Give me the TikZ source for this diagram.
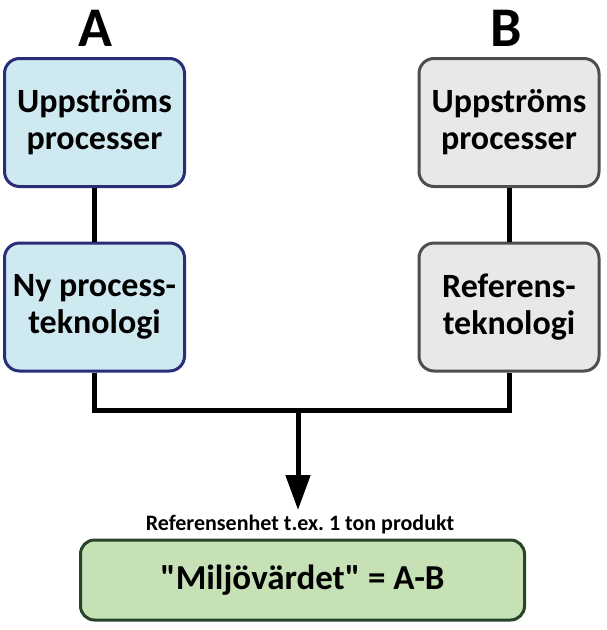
\documentclass[tikz,border=0pt]{standalone}
\usepackage{fontspec}
\setmainfont{Carlito}[Ligatures=TeXOff]
\usetikzlibrary{arrows.meta}
\frenchspacing
\definecolor{bluefill}{HTML}{CFE9F1}
\definecolor{blueline}{HTML}{2A2D78}
\definecolor{greyfill}{HTML}{E9E7E7}
\definecolor{greyline}{HTML}{4E4E4E}
\definecolor{greenfill}{HTML}{C6E1B5}
\definecolor{greenline}{HTML}{284428}
\tikzset{
  procbox/.style={rounded corners=15pt, line width=3pt, minimum width=180pt, minimum height=128pt,
    align=center, font=\bfseries\fontsize{34}{37}\selectfont, inner sep=0pt},
  abox/.style={procbox, draw=blueline, fill=bluefill},
  bbox/.style={procbox, draw=greyline, fill=greyfill},
  conn/.style={line width=5pt, black},
  bigletter/.style={font=\bfseries\fontsize{56}{60}\selectfont, inner sep=0pt},
}
\begin{document}
\begin{tikzpicture}[x=1pt,y=-1pt]
\useasboundingbox (0,0) rectangle (607,630);
\node[bigletter] (LA) at (95,28) {A};
\node[bigletter] (LB) at (506,28) {B};
\node[abox] (A1) at (94.5,122.5) {Uppströms\\processer};
\node[abox] (A2) at (94.5,307) {Ny process-\\teknologi};
\node[bbox] (B1) at (509,122.5) {Uppströms\\processer};
\node[bbox] (B2) at (509,307) {Referens-\\teknologi};
\draw[conn] (A1.south) -- (A2.north);
\draw[conn] (B1.south) -- (B2.north);
\coordinate (J) at (298,410);
\draw[conn] (A2.south) |- (J) -| (B2.south);
\node[font=\bfseries\fontsize{22}{25}\selectfont, inner sep=0pt] (lab) at (300,525) {\frenchspacing Referensenhet t.ex. 1 ton produkt};
\node[draw=greenline, fill=greenfill, line width=3pt, rounded corners=14pt, minimum width=444pt, minimum height=80pt,
  font=\bfseries\fontsize{35}{40}\selectfont, inner sep=0pt] (G) at (302.5,580) {"Miljövärdet" = A-B};
\coordinate (tip) at (298,510);
\draw[conn, -{Triangle[length=35pt,width=24pt]}] (J) -- (tip);
\end{tikzpicture}
\end{document}
